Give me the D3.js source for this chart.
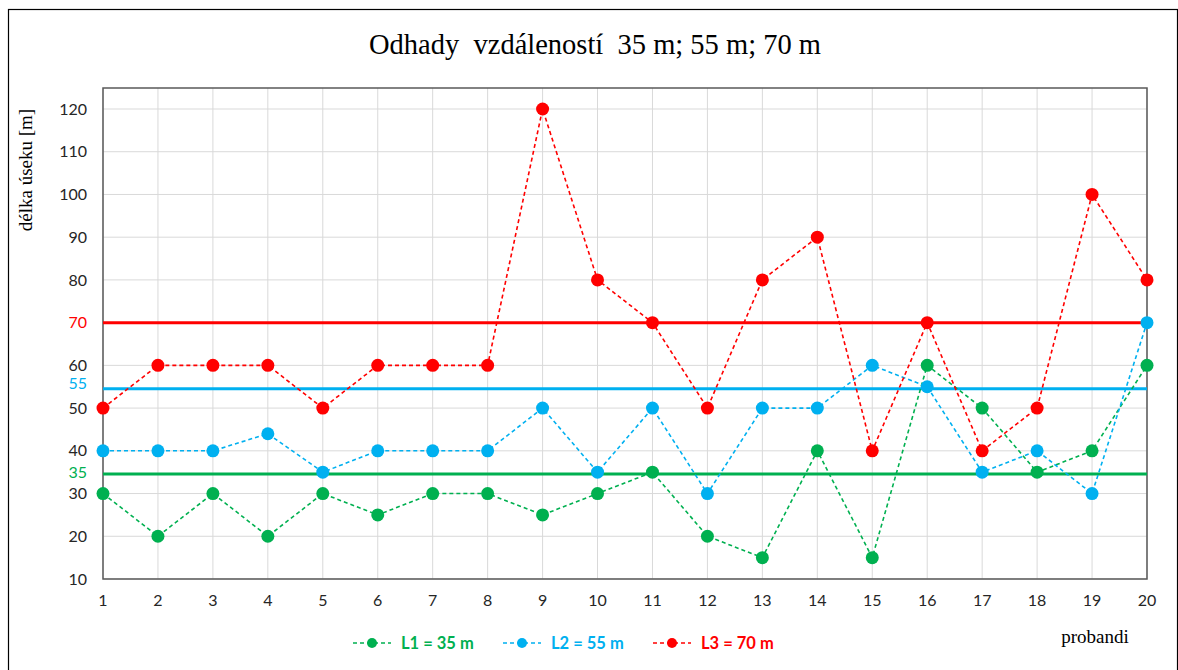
<!DOCTYPE html>
<html>
<head>
<meta charset="utf-8">
<script src="https://cdn.jsdelivr.net/npm/d3@7"></script>
<style>
  body { margin: 0; background: #fff; }
  svg { display: block; }
</style>
</head>
<body>
<div id="chart"></div>
<script>
// data
const probandi = d3.range(1, 21);
const L1 = [30, 20, 30, 20, 30, 25, 30, 30, 25, 30, 35, 20, 15, 40, 15, 60, 50, 35, 40, 60];
const L2 = [40, 40, 40, 44, 35, 40, 40, 40, 50, 35, 50, 30, 50, 50, 60, 55, 35, 40, 30, 70];
const L3 = [50, 60, 60, 60, 50, 60, 60, 60, 120, 80, 70, 50, 80, 90, 40, 70, 40, 50, 100, 80];
const seriesNames = ['L1 = 35 m', 'L2 = 55 m', 'L3 = 70 m'];
const refValues = [34.6, 54.5, 70];
const refLabels = ['35', '55', '70'];
const refLabelShift = [-1, -5, 0];
const yTicks = [10, 20, 30, 40, 50, 60, 70, 80, 90, 100, 110, 120];
const yTickLabels = [10, 20, 30, 40, 50, 60, 80, 90, 100, 110, 120]; // 70 is drawn in red
const colors = ['#00b050', '#00b0f0', '#ff0000'];

const W = 1178, H = 670;
const plot = { left: 103, right: 1147, top: 88, bottom: 579 };
const tickFont = 'Lato, "Open Sans", sans-serif';
const serif = '"Liberation Serif", "Times New Roman", serif';

const svg = d3.select('#chart').append('svg')
    .attr('width', W)
    .attr('height', H);

// outer frame
svg.append('rect')
    .attr('x', 8.5).attr('y', 9.5)
    .attr('width', W - 9).attr('height', H)
    .attr('fill', 'none').attr('stroke', '#000').attr('stroke-width', 1.2);

const x = d3.scaleLinear().domain([1, 20]).range([plot.left, plot.right]);
const y = d3.scaleLinear().domain([10, 120]).range([plot.bottom, plot.bottom - 470]);

// grid
const grid = svg.append('g');
grid.selectAll('line.v')
    .data(probandi)
    .enter().append('line')
    .attr('x1', d => x(d)).attr('x2', d => x(d))
    .attr('y1', plot.top).attr('y2', plot.bottom)
    .attr('stroke', '#d9d9d9').attr('stroke-width', 1);
grid.selectAll('line.h')
    .data(yTicks)
    .enter().append('line')
    .attr('x1', plot.left).attr('x2', plot.right)
    .attr('y1', d => y(d)).attr('y2', d => y(d))
    .attr('stroke', '#d9d9d9').attr('stroke-width', 1);

// plot border
svg.append('rect')
    .attr('x', plot.left).attr('y', plot.top)
    .attr('width', plot.right - plot.left).attr('height', plot.bottom - plot.top)
    .attr('fill', 'none').attr('stroke', '#595959').attr('stroke-width', 1.5);

// y ticks
svg.append('g').selectAll('text')
    .data(yTickLabels)
    .enter().append('text')
    .attr('x', 87).attr('y', d => y(d))
    .attr('dy', '0.35em')
    .attr('text-anchor', 'end')
    .attr('font-family', tickFont)
    .attr('font-size', 16)
    .attr('fill', '#262626')
    .text(d => d);

// x ticks
svg.append('g').selectAll('text')
    .data(probandi)
    .enter().append('text')
    .attr('x', d => x(d)).attr('y', 606)
    .attr('text-anchor', 'middle')
    .attr('font-family', tickFont)
    .attr('font-size', 16)
    .attr('fill', '#262626')
    .text(d => d);

// reference lines
refValues.forEach((v, i) => {
    svg.append('line')
        .attr('x1', plot.left).attr('x2', plot.right)
        .attr('y1', y(v)).attr('y2', y(v))
        .attr('stroke', colors[i]).attr('stroke-width', 3);
    svg.append('text')
        .attr('x', 87).attr('y', y(v) + refLabelShift[i])
        .attr('dy', '0.35em')
        .attr('text-anchor', 'end')
        .attr('font-family', tickFont)
        .attr('font-size', 16)
        .attr('fill', colors[i])
        .text(refLabels[i]);
});

// series
const allSeries = [L1, L2, L3];
const line = d3.line().x((d, i) => x(probandi[i])).y(d => y(d));

allSeries.forEach((vals, i) => {
    const g = svg.append('g');
    g.append('path')
        .datum(vals)
        .attr('d', line)
        .attr('fill', 'none')
        .attr('stroke', colors[i])
        .attr('stroke-width', 1.6)
        .attr('stroke-dasharray', '4,3');
    g.selectAll('circle')
        .data(vals)
        .enter().append('circle')
        .attr('cx', (d, j) => x(probandi[j]))
        .attr('cy', d => y(d))
        .attr('r', 6.5)
        .attr('fill', colors[i]);
});

// title
svg.append('text')
    .attr('x', 595).attr('y', 54)
    .attr('text-anchor', 'middle')
    .attr('font-family', serif)
    .attr('font-size', 28.5)
    .attr('fill', '#000')
    .attr('xml:space', 'preserve')
    .text('Odhady  vzdáleností  35 m; 55 m; 70 m');

// y axis title
svg.append('text')
    .attr('transform', 'translate(32,170) rotate(-90)')
    .attr('text-anchor', 'middle')
    .attr('font-family', serif)
    .attr('font-size', 19)
    .attr('fill', '#000')
    .text('délka úseku [m]');

// x axis title
svg.append('text')
    .attr('x', 1095).attr('y', 643)
    .attr('text-anchor', 'middle')
    .attr('font-family', serif)
    .attr('font-size', 19)
    .attr('fill', '#000')
    .text('probandi');

// legend
const legendX = [353, 503, 653];
seriesNames.forEach((name, i) => {
    const lg = svg.append('g').attr('transform', `translate(${legendX[i]},643)`);
    lg.append('line')
        .attr('x1', 0).attr('x2', 38)
        .attr('y1', 0).attr('y2', 0)
        .attr('stroke', colors[i]).attr('stroke-width', 1.6)
        .attr('stroke-dasharray', '4,3');
    lg.append('circle').attr('cx', 19).attr('cy', 0).attr('r', 5).attr('fill', colors[i]);
    lg.append('text')
        .attr('x', 48).attr('y', 0)
        .attr('dy', '0.35em')
        .attr('font-family', tickFont)
        .attr('font-weight', 'bold')
        .attr('font-size', 16.5)
        .attr('fill', colors[i])
        .text(name);
});
</script>
</body>
</html>
